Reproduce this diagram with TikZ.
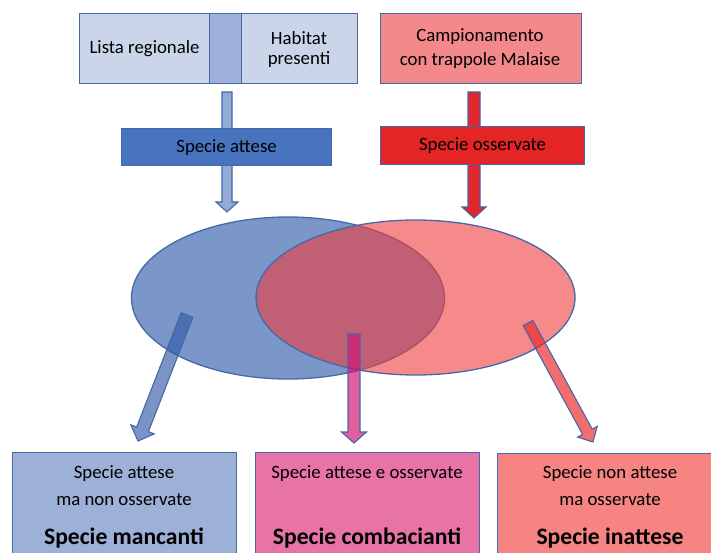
\documentclass[tikz,border=0pt]{standalone}
\usepackage{fontspec}
\setmainfont{Carlito}
\usetikzlibrary{calc}
\definecolor{edge}{RGB}{68,104,168}
\definecolor{lightblue}{RGB}{202,213,233}
\definecolor{stripblue}{RGB}{156,176,217}
\definecolor{salmon}{RGB}{244,137,139}
\definecolor{attese}{RGB}{72,115,191}
\definecolor{osserv}{RGB}{227,37,38}
\definecolor{arrblue}{RGB}{147,169,214}
\definecolor{arrred}{RGB}{228,37,42}
\definecolor{setblue}{RGB}{123,151,202}
\definecolor{setred}{RGB}{240,60,60}
\definecolor{mancanti}{RGB}{156,176,216}
\definecolor{combac}{RGB}{232,115,166}
\definecolor{inattese}{RGB}{245,132,130}
\definecolor{darr1}{RGB}{52,89,166}
\definecolor{darr2}{RGB}{212,16,112}
\definecolor{darr3}{RGB}{236,39,39}
\tikzset{
  box/.style={draw=edge, line width=1.1pt, inner sep=0pt, anchor=north west},
  txt/.style={font=\fontsize{18.8}{22}\selectfont, text=black, align=center, inner sep=0pt},
  big/.style={font=\fontsize{23.6}{27}\bfseries\selectfont, text=black, inner sep=0pt},
  barr/.style={draw=edge, line width=1.1pt, line join=miter},
}
\newcommand\blockarrow[6]{%
  \coordinate (hb) at ($(#3)!#6!(#2)$);
  \draw[barr,#1] ($(#2)!#4!-90:(#3)$) -- ($(hb)!#4!-90:(#3)$) -- ($(hb)!#5!-90:(#3)$) -- (#3)
     -- ($(hb)!#5!90:(#3)$) -- ($(hb)!#4!90:(#3)$) -- ($(#2)!#4!90:(#3)$) -- cycle;
}
\begin{document}
\begin{tikzpicture}[x=1pt,y=-1pt]
\useasboundingbox (0,0) rectangle (711,553);
\clip (0,0) rectangle (711,553);

% top boxes
\node[box, fill=lightblue, minimum width=130pt, minimum height=70pt] (lista) at (79,13) {};
\node[box, fill=stripblue, minimum width=32pt, minimum height=70pt] (strip) at (209,13) {};
\node[box, fill=lightblue, minimum width=116pt, minimum height=70pt] (habitat) at (241,13) {};
\node[txt] at (lista.center) {Lista regionale};
\node[txt] at (299,38) {Habitat};
\node[txt] at (299,60) {presenti};
\node[box, fill=salmon, minimum width=201pt, minimum height=70pt] (camp) at (380,13) {};
\node[txt] at (480,37) {Campionamento};
\node[txt] at (480,60) {con trappole Malaise};

% top arrows
\coordinate (ba0) at (227,92);
\coordinate (ba1) at (227,212);
\blockarrow{fill=arrblue}{ba0}{ba1}{5pt}{11pt}{10pt}
\coordinate (ra0) at (474,92);
\coordinate (ra1) at (474,218);
\blockarrow{fill=arrred}{ra0}{ra1}{6pt}{12pt}{11pt}

\node[box, fill=attese, minimum width=210pt, minimum height=37pt] (sa) at (121,128) {};
\node[txt] at (sa.center) {Specie attese};
\node[box, fill=osserv, minimum width=204pt, minimum height=38pt] (so) at (380,126) {};
\node[txt] at (so.center) {Specie osservate};

% sets
\draw[draw=edge, line width=1.3pt, fill=setblue] (288,298) ellipse [x radius=156.5pt, y radius=81pt];
\fill[setred, fill opacity=0.6] (415.5,297.5) ellipse [x radius=159.5pt, y radius=77.5pt];
\draw[draw=edge, line width=1.3pt] (415.5,297.5) ellipse [x radius=159.5pt, y radius=77.5pt];

% lower arrows
\coordinate (la0) at (187,315);
\coordinate (la1) at (138,441);
\blockarrow{fill=darr1, fill opacity=0.65}{la0}{la1}{6.3pt}{12.6pt}{12.5pt}
\coordinate (ma0) at (354,334);
\coordinate (ma1) at (354,443);
\blockarrow{fill=darr2, fill opacity=0.67}{ma0}{ma1}{6pt}{12.5pt}{11pt}
\coordinate (xa0) at (528,323);
\coordinate (xa1) at (593,442);
\blockarrow{fill=darr3, fill opacity=0.67}{xa0}{xa1}{5.5pt}{11.2pt}{11.7pt}

% bottom boxes
\node[box, fill=mancanti, minimum width=224pt, minimum height=110pt] (bm) at (12,452) {};
\node[box, fill=combac, minimum width=224pt, minimum height=110pt] (bc) at (255,452) {};
\node[box, fill=inattese, minimum width=230pt, minimum height=110pt] (bi) at (497,453) {};

\node[txt] at (124,474) {Specie attese};
\node[txt] at (124,500) {ma non osservate};
\node[big] at (124,538) {Specie mancanti};
\node[txt] at (367,474) {Specie attese e osservate};
\node[big] at (367,538) {Specie combacianti};
\node[txt] at (610,474) {Specie non attese};
\node[txt] at (610,500) {ma osservate};
\node[big] at (610,538) {Specie inattese};
\end{tikzpicture}
\end{document}
